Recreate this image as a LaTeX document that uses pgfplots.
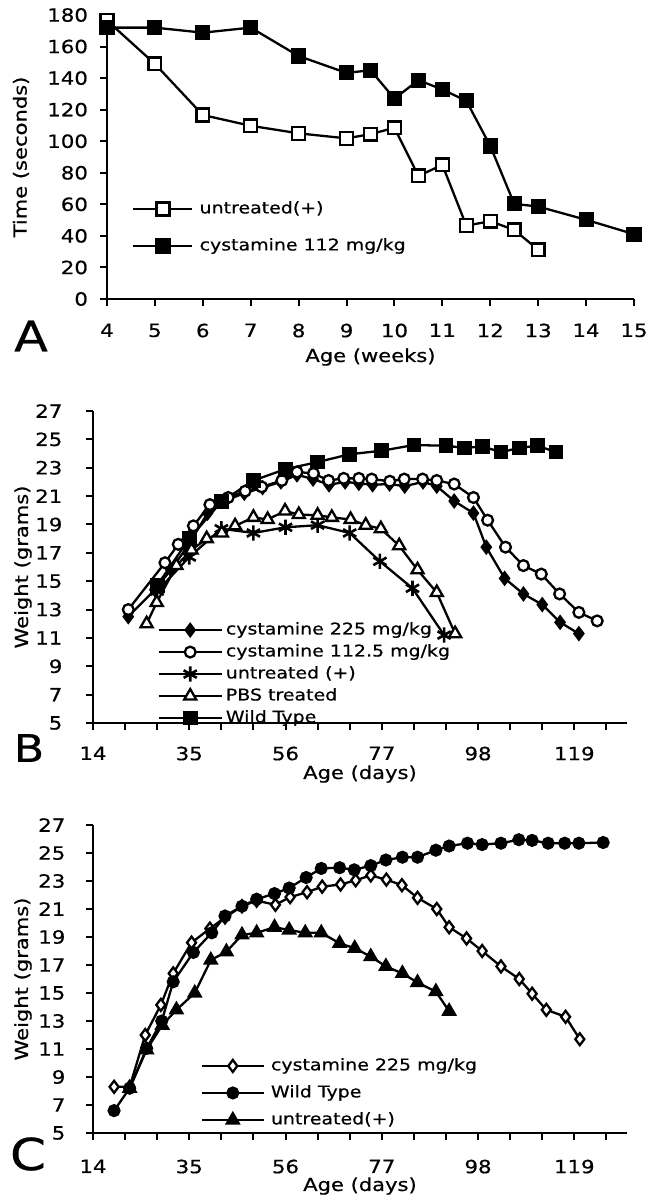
\documentclass[border=0pt]{standalone}
\usepackage{pgfplots}
\pgfplotsset{compat=1.18}
\usepackage{fontspec}
\setmainfont[FakeStretch=1.17, FakeBold=0.6]{DejaVu Sans}

\pgfplotsset{
  panel/.style={
    scale only axis,
    axis lines*=left,
    axis line style={line width=1pt},
    every tick/.style={black, line width=1pt},
    tick align=outside,
    major tick length=3.3pt,
    minor tick length=3.3pt,
    tick label style={font=\fontsize{9.1}{10}\selectfont},
    /pgf/number format/assume math mode=true,
    label style={font=\fontsize{9}{11}\selectfont},
    clip=false,
    legend cell align=left,
    legend style={draw=none, fill=none, inner sep=0pt,
      font=\fontsize{8.1}{10}\selectfont,
      nodes={inner sep=0pt, text height=6.2pt, text depth=1.8pt}},
    every axis plot/.append style={black, line width=1.15pt,
      mark options={solid, line width=1pt}},
  },
}

\begin{document}
\begin{tikzpicture}
\useasboundingbox (0,0) rectangle (324.5pt,-599.5pt);

% ---- panel A
\begin{axis}[panel,
  at={(53.5pt,-149.5pt)}, anchor=south west,
  width=263.5pt, height=142pt,
  xmin=4, xmax=15, ymin=0, ymax=180,
  xtick={4,...,15}, ytick={0,20,...,180},
  yticklabel style={xshift=-2.7pt},
  xticklabel style={yshift=-5.5pt},
  xlabel={Age (weeks)}, ylabel={Time (seconds)},
  xlabel style={at={([yshift=-29pt]axis description cs:0.5,0)}, anchor=center},
  ylabel style={at={([xshift=-43pt]axis description cs:0,0.5)}, anchor=center},
  legend image code/.code={\draw[mark repeat=2,mark phase=2] plot coordinates {(0pt,0pt)(14.75pt,0pt)(29.5pt,0pt)};},
  legend style={at={(axis cs:4.52,45.3)}, anchor=west, row sep=10.5pt,
    /tikz/every odd column/.append style={column sep=3pt}},
]
\addplot[mark=square*, mark size=3.2pt, mark options={fill=white}] coordinates {
(4,176.5) (5,149) (6,116.6) (7,109.8) (8,105) (9,101.8) (9.5,104.5) (10,108.5)
(10.5,78) (11,85) (11.5,46.5) (12,49.3) (12.5,43.8) (13,31.2)};
\addlegendentry{untreated(+)}
\addplot[mark=square*, mark size=3.2pt, mark options={fill=black}] coordinates {
(4,172) (5,172) (6,168.8) (7,172) (8,154) (9,143.3) (9.5,145) (10,127)
(10.5,138.7) (11,132.8) (11.5,125.6) (12,97) (12.5,60.3) (13,58.6) (14,50.2) (15,41.1)};
\addlegendentry{cystamine 112 mg/kg}
\end{axis}

% ---- panel B
\begin{axis}[panel,
  at={(46.5pt,-361.5pt)}, anchor=south west,
  width=267pt, height=156pt,
  xmin=14, xmax=130.5, ymin=5, ymax=27,
  xtick={14,35,56,77,98,119}, minor xtick={21,28,...,126},
  ytick={5,7,...,27},
  yticklabel style={xshift=-8.5pt},
  xticklabel style={yshift=-5pt},
  xlabel={Age (days)}, ylabel={Weight (grams)},
  xlabel style={at={([yshift=-25.5pt]axis description cs:0.5,0)}, anchor=center},
  ylabel style={at={([xshift=-35pt]axis description cs:0,0.5)}, anchor=center},
  legend image code/.code={\draw[mark repeat=2,mark phase=2] plot coordinates {(0pt,0pt)(15.75pt,0pt)(31.5pt,0pt)};},
  legend style={at={(axis cs:28,8.45)}, anchor=west, row sep=3pt,
    /tikz/every odd column/.append style={column sep=1.5pt}},
]
\addplot[mark=diamond*, mark size=3pt, mark options={fill=black}] coordinates {
(21.7,12.5) (27.5,14.4) (31,15.8) (34.5,17.4) (39,19.8) (43,20.7) (47,21.2)
(51,21.6) (55,22.0) (58.5,22.5) (62,22.2) (65.5,21.8) (69,22.0) (72,21.9)
(75,21.8) (78.7,21.85) (82,21.7) (86,22.0) (89,21.7) (92.8,20.65) (97,19.8)
(99.8,17.4) (103.8,15.2) (107.9,14.1) (112,13.35) (115.9,12.1) (120,11.3)};
\addlegendentry{cystamine 225 mg/kg}
\addplot[mark=*, mark size=2.7pt, mark options={fill=white}] coordinates {
(21.7,13.0) (29.7,16.3) (32.6,17.6) (35.9,18.9) (39.5,20.4) (43.5,20.9)
(47.2,21.35) (50.8,21.65) (55.2,22.1) (58.5,22.7) (62.1,22.6) (65.4,22.1)
(68.7,22.25) (72,22.25) (74.8,22.2) (78.75,22.05) (81.9,22.2) (85.9,22.2)
(89,22.1) (92.8,21.85) (97,20.9) (100.1,19.3) (104,17.4) (107.9,16.1)
(111.8,15.5) (115.8,14.1) (120,12.8) (124,12.2)};
\addlegendentry{cystamine 112.5 mg/kg}
\addplot[mark=asterisk, mark size=3.8pt, mark options={line width=1.3pt}] coordinates {
(28,14.3) (35,16.7) (42,18.7) (49,18.4) (56,18.8) (63,18.95) (70,18.4)
(76.6,16.4) (83.7,14.5) (90.6,11.2)};
\addlegendentry{untreated (+)}
\addplot[mark=triangle*, mark size=3.5pt, mark options={fill=white}] coordinates {
(25.7,12.0) (27.9,13.5) (32.2,16.1) (35.5,17.2) (38.8,18.0) (42.1,18.4)
(45,18.9) (49,19.5) (52.1,19.35) (55.9,19.95) (58.9,19.7) (63,19.65)
(66.1,19.5) (70.2,19.35) (73.5,18.95) (76.8,18.7) (80.8,17.5) (84.8,15.8)
(89,14.2) (93,11.3)};
\addlegendentry{PBS treated}
\addplot[mark=square*, mark size=3.1pt, mark options={fill=black}] coordinates {
(28,14.7) (35,18.0) (42,20.6) (49,22.1) (56,22.9) (63,23.4) (70,23.95)
(77,24.2) (84,24.6) (91,24.55) (95,24.4) (99,24.5) (103,24.1) (107,24.4)
(111,24.55) (115,24.1)};
\addlegendentry{Wild Type}
\end{axis}

% ---- panel C
\begin{axis}[panel,
  at={(46.5pt,-566.5pt)}, anchor=south west,
  width=267pt, height=154pt,
  xmin=14, xmax=130.5, ymin=5, ymax=27,
  xtick={14,35,56,77,98,119}, minor xtick={21,28,...,126},
  ytick={5,7,...,27},
  yticklabel style={xshift=-7pt},
  xticklabel style={yshift=-6.5pt},
  xlabel={Age (days)}, ylabel={Weight (grams)},
  xlabel style={at={([yshift=-26.5pt]axis description cs:0.5,0)}, anchor=center},
  ylabel style={at={([xshift=-35pt]axis description cs:0,0.5)}, anchor=center},
  legend image code/.code={\draw[mark repeat=2,mark phase=2] plot coordinates {(0pt,0pt)(15.5pt,0pt)(31pt,0pt)};},
  legend style={at={(axis cs:37.4,7.86)}, anchor=west, row sep=5.5pt,
    /tikz/every odd column/.append style={column sep=3pt}},
]
\addplot[mark=diamond*, mark size=3pt, mark options={fill=white}] coordinates {
(18.6,8.3) (22,8.3) (25.4,12.0) (28.8,14.15) (31.5,16.4) (35.5,18.6)
(39.5,19.6) (42.8,20.4) (46.5,21.2) (49.7,21.6) (53.8,21.3) (57,21.85)
(60.7,22.2) (64,22.6) (68,22.75) (71.3,23.05) (74.6,23.4) (78,23.1)
(81.4,22.7) (84.8,21.8) (89,21.0) (91.7,19.7) (95.5,18.9) (98.9,18.0)
(103,16.9) (107,16.0) (109.8,14.95) (112.9,13.8) (117.1,13.3) (120.2,11.7)};
\addlegendentry{cystamine 225 mg/kg}
\addplot[mark=*, mark size=2.7pt, mark options={fill=black}] coordinates {
(18.6,6.6) (22,8.2) (25.7,11.05) (29,13.0) (31.5,15.8) (35.9,17.9)
(39.9,19.3) (42.8,20.5) (46.5,21.2) (49.7,21.7) (53.6,22.1) (56.8,22.5)
(60.5,23.25) (63.8,23.9) (67.8,23.95) (71,23.8) (74.6,24.1) (77.9,24.5)
(81.5,24.7) (84.8,24.7) (88.8,25.2) (91.7,25.5) (95.7,25.7) (98.9,25.6)
(103,25.7) (106.9,25.95) (109.8,25.9) (113.3,25.7) (116.9,25.7) (120,25.7)
(125.3,25.75)};
\addlegendentry{Wild Type}
\addplot[mark=triangle*, mark size=3.4pt, mark options={fill=black}] coordinates {
(22,8.2) (25.7,10.95) (29.1,12.7) (32.2,13.8) (36.2,15.0) (39.7,17.35)
(43.1,17.95) (46.5,19.15) (49.7,19.3) (53.6,19.7) (56.8,19.5) (60.3,19.3)
(63.8,19.3) (67.8,18.55) (71.1,18.2) (74.6,17.6) (77.9,16.9) (81.5,16.4)
(84.8,15.75) (88.8,15.1) (91.7,13.7)};
\addlegendentry{untreated(+)}
\end{axis}

\node[font=\fontsize{21}{24}\selectfont] at (15.5pt,-168pt) {A};
\node[font=\fontsize{19}{22}\selectfont] at (14.5pt,-374pt) {B};
\node[font=\fontsize{22}{24}\selectfont] at (14pt,-577pt) {C};
\end{tikzpicture}
\end{document}
